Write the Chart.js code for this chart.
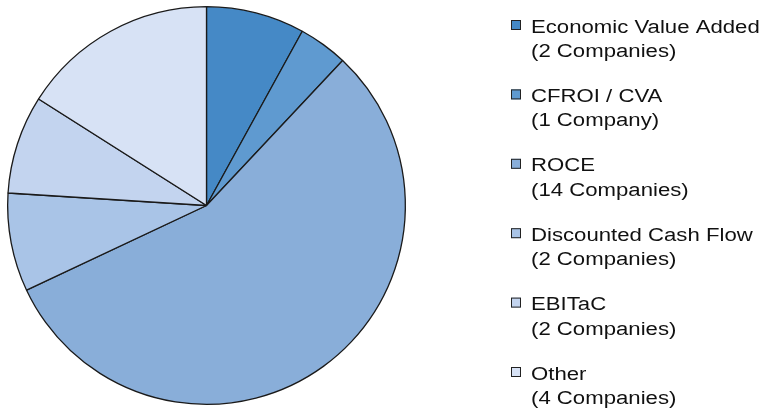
<!DOCTYPE html>
<html>
<head>
<meta charset="utf-8">
<script src="https://cdn.jsdelivr.net/npm/chart.js@4/dist/chart.umd.min.js"></script>
<style>
  html, body { margin: 0; padding: 0; background: #ffffff; }
  #wrap { width: 765px; height: 411px; position: relative; }
</style>
</head>
<body>
<div id="wrap"><canvas id="pie"></canvas></div>
<script>
// Performance measures used by the companies
const methods = ['Economic Value Added', 'CFROI / CVA', 'ROCE', 'Discounted Cash Flow', 'EBITaC', 'Other'];
const companyCounts = [2, 1, 14, 2, 2, 4];
const sliceColors = ['#4589c6', '#5f9ad0', '#89aed9', '#a9c4e7', '#c3d4ef', '#d7e2f5'];

function countLabel(n) {
  return '(' + n + (n === 1 ? ' Company)' : ' Companies)');
}

// Two-line legend on the right, drawn on the canvas
const sideLegend = {
  id: 'sideLegend',
  afterDraw(chart) {
    const ctx = chart.ctx;
    const ds = chart.data.datasets[0];
    const x0 = 511, textX = 531, top = 32.5, step = 69.4, lineGap = 24.5;
    ctx.save();
    ctx.font = '18.8px "Liberation Sans", Arial, sans-serif';
    ctx.textBaseline = 'alphabetic';
    chart.data.labels.forEach((lab, i) => {
      const base = top + i * step;
      ctx.fillStyle = ds.backgroundColor[i];
      ctx.fillRect(x0, base - 12.5, 10, 10);
      ctx.strokeStyle = '#222';
      ctx.lineWidth = 1;
      ctx.strokeRect(x0 + 0.5, base - 12, 9, 9);
      ctx.fillStyle = '#111111';
      [lab, countLabel(ds.data[i])].forEach((t, k) => {
        ctx.save();
        ctx.translate(textX, base + k * lineGap);
        ctx.scale(1.18, 1);
        ctx.fillText(t, 0, 0);
        ctx.restore();
      });
    });
    ctx.restore();
  }
};

new Chart(document.getElementById('pie'), {
  type: 'pie',
  data: {
    labels: methods,
    datasets: [{
      data: companyCounts,
      backgroundColor: sliceColors,
      borderColor: '#1a1a1a',
      borderWidth: 1.3
    }]
  },
  options: {
    responsive: true,
    maintainAspectRatio: false,
    animation: false,
    layout: { padding: { left: 7, top: 6, right: 359, bottom: 6 } },
    plugins: {
      legend: { display: false },
      tooltip: { enabled: false }
    }
  },
  plugins: [sideLegend]
});
</script>
</body>
</html>
